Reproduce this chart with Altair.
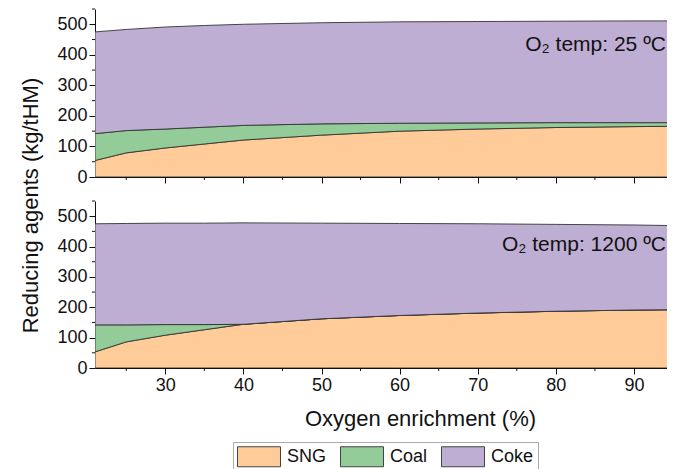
import altair as alt
import pandas as pd

# ---------------- data ----------------
oxygen = [21, 25, 30, 35, 40, 50, 60, 70, 80, 90, 95]
agents = ["SNG", "Coal", "Coke"]
agent_colors = ["#FFCC99", "#93CB99", "#BFAED3"]

# O2 temp 25 ºC
sng_25 = [54, 79, 95, 108, 121, 137, 150, 157, 162, 165, 166]
coal_25 = [88, 73, 62, 55, 48, 37, 26, 20, 16, 13, 12]
coke_25 = [333, 331, 334, 333, 331, 331, 332, 332, 332, 333, 333]

# O2 temp 1200 ºC
sng_1200 = [53, 86, 108, 126, 144, 162, 173, 181, 187, 191, 192]
coal_1200 = [89, 56, 35, 17, 0, 0, 0, 0, 0, 0, 0]
coke_1200 = [333, 334, 334, 334, 334, 315, 303, 294, 286, 280, 277]

y_major = [0, 100, 200, 300, 400, 500]
y_minor = [50, 150, 250, 350, 450, 550]
x_major = [30, 40, 50, 60, 70, 80, 90]
x_minor = [25, 35, 45, 55, 65, 75, 85]

labels = ["O\u2082 temp: 25 \u00baC", "O\u2082 temp: 1200 \u00baC"]
label_y = [414, 385]


def long_df(sng, coal, coke):
    rows = []
    for i, x in enumerate(oxygen):
        for k, (name, vals) in enumerate(zip(agents, [sng, coal, coke])):
            rows.append({"oxygen": x, "agent": name, "value": vals[i], "order": k})
    return pd.DataFrame(rows)


xscale = alt.Scale(domain=[21, 94.23], nice=False, zero=False)
yscale = alt.Scale(domain=[0, 550], nice=False)
W = 572


def panel(df, label, ly, height, bottom, show_ytitle):
    if show_ytitle:
        yaxis = alt.Axis(values=y_major, title="Reducing agents (kg/tHM)",
                         titleX=-65, titleY=196, titleAngle=270,
                         titleAlign="center", titleBaseline="middle", labelOverlap=False)
    else:
        yaxis = alt.Axis(values=y_major, title="", labelOverlap=False)
    if bottom:
        xaxis = alt.Axis(values=x_major, title="Oxygen enrichment (%)", format="d",
                         titleX=325, titlePadding=14, labelOverlap=False)
    else:
        xaxis = alt.Axis(values=x_major, labels=False, title="")

    area = alt.Chart(df).mark_area(stroke="#333333", strokeWidth=0.9, opacity=1, clip=True).encode(
        x=alt.X("oxygen:Q", scale=xscale, axis=xaxis),
        y=alt.Y("value:Q", stack="zero", scale=yscale, axis=yaxis),
        color=alt.Color("agent:N", scale=alt.Scale(domain=agents, range=agent_colors),
                        legend=alt.Legend(title=None)),
        order=alt.Order("order:Q"),
    )
    yminor = alt.Chart(pd.DataFrame({"v": y_minor})).mark_rule(color="#111111", strokeWidth=1).encode(
        y=alt.Y("v:Q", scale=yscale, axis=yaxis),
        x=alt.value(0), x2=alt.value(-3),
    )
    xminor = alt.Chart(pd.DataFrame({"v": x_minor})).mark_rule(color="#111111", strokeWidth=1).encode(
        x=alt.X("v:Q", scale=xscale, axis=xaxis),
        y=alt.value(height), y2=alt.value(height + 3),
    )
    ann = alt.Chart(pd.DataFrame({"t": [label]})).mark_text(
        align="right", baseline="alphabetic", fontSize=21, color="#111111"
    ).encode(
        x=alt.XDatum(94.1, scale=xscale, axis=xaxis),
        y=alt.YDatum(ly, scale=yscale, axis=yaxis),
        text="t:N",
    )
    return alt.layer(area, yminor, xminor, ann).properties(width=W, height=height)


top = panel(long_df(sng_25, coal_25, coke_25), labels[0], label_y[0], 168, False, True)
bot = panel(long_df(sng_1200, coal_1200, coke_1200), labels[1], label_y[1], 167, True, False)

chart = alt.vconcat(top, bot, spacing=24, bounds="flush").properties(
    padding={"left": 11, "top": 0, "right": 0, "bottom": 0}
).configure(font="Liberation Sans").configure_view(stroke=None).configure_axis(
    domainColor="#111111", tickColor="#111111", labelColor="#111111", titleColor="#111111",
    labelFontSize=18, titleFontSize=22, titleFontWeight="normal", grid=False,
    tickSize=6, domainWidth=1, tickWidth=1, labelPadding=2, titlePadding=8,
    labelOverlap=False,
).configure_legend(
    orient="none", legendX=138, legendY=433, direction="horizontal",
    symbolType="M-1,-1H3.3V1H-1Z", symbolSize=400,
    symbolStrokeColor="#444444", symbolStrokeWidth=1, symbolOpacity=1,
    labelFontSize=18, labelColor="#111111", labelOffset=29, columnPadding=11,
    padding=4, strokeColor="#AAAAAA",
)

chart.save("out.html", embed_options={"renderer": "svg", "actions": False})
